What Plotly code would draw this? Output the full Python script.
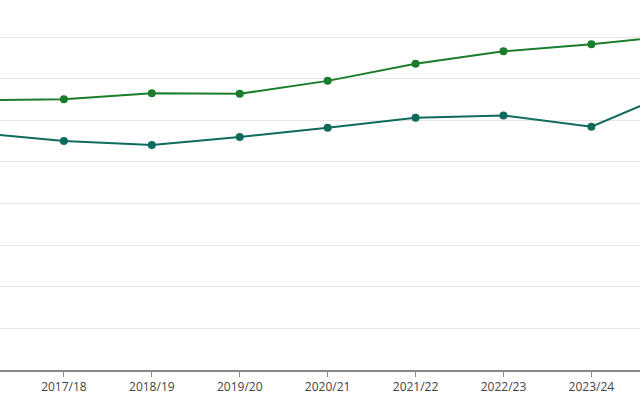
import plotly.graph_objects as go

categories = ["2016/17", "2017/18", "2018/19", "2019/20", "2020/21",
              "2021/22", "2022/23", "2023/24", "2024/25"]
series_green = [64.8, 65.1, 66.5, 66.4, 69.5, 73.6, 76.6, 78.3, 80.5]
series_teal = [57.0, 55.05, 54.1, 56.0, 58.25, 60.65, 61.2, 58.5, 67.4]
y_ticks = [0, 10, 20, 30, 40, 50, 60, 70, 80]

fig = go.Figure()
fig.add_trace(go.Scatter(
    x=list(range(len(categories))), y=series_green, mode="lines+markers",
    line=dict(color="#1b7d2b", width=2), marker=dict(color="#1b7d2b", size=8),
    cliponaxis=True, showlegend=False))
fig.add_trace(go.Scatter(
    x=list(range(len(categories))), y=series_teal, mode="lines+markers",
    line=dict(color="#0f6b5e", width=2), marker=dict(color="#0f6b5e", size=8),
    cliponaxis=True, showlegend=False))

fig.update_layout(
    width=640, height=400,
    margin=dict(l=0, r=0, t=0, b=30),
    paper_bgcolor="white", plot_bgcolor="white",
    font=dict(family="Open Sans, sans-serif", size=12, color="#444"),
    xaxis=dict(
        range=[0.273, 7.553],
        tickmode="array", tickvals=list(range(len(categories))), ticktext=categories,
        showgrid=False, zeroline=False,
        showline=True, linecolor="#888", linewidth=2,
        ticks="outside", ticklen=5, tickcolor="#888", tickwidth=1,
        fixedrange=True,
    ),
    yaxis=dict(
        range=[0, 88.94], tickvals=y_ticks, showticklabels=False,
        showgrid=True, gridcolor="#e6e6e6", gridwidth=1,
        zeroline=False, showline=False, fixedrange=True,
    ),
)
fig.write_html("out.html", config={"displayModeBar": False},
               post_script="document.body.style.margin='0';")
